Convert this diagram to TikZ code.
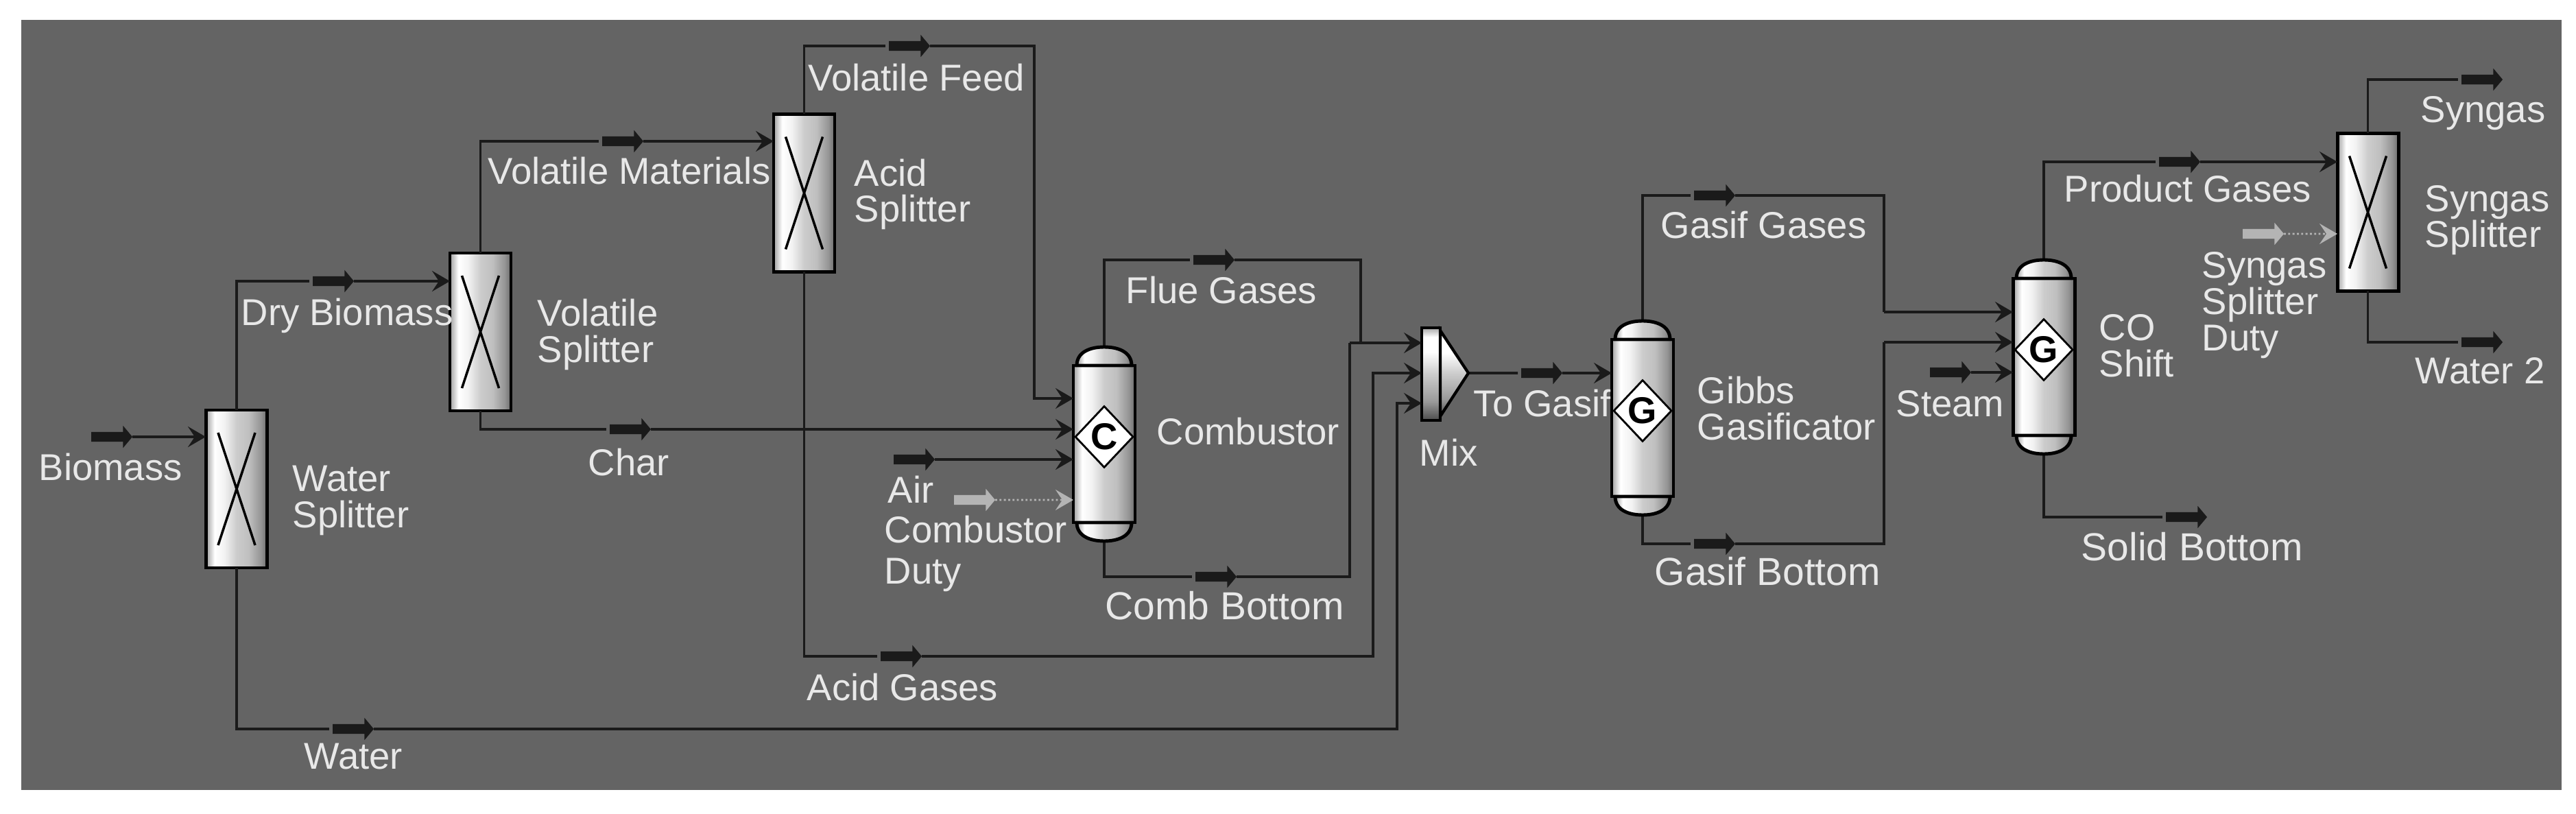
\documentclass[tikz,border=0pt]{standalone}
\usepackage{fontspec}
\setmainfont{Liberation Sans}
\usetikzlibrary{arrows.meta,shapes.arrows,shapes.geometric}
\definecolor{flowbg}{HTML}{646464}
\definecolor{flowline}{HTML}{1A1A1A}
\definecolor{flowtext}{HTML}{E8E8E8}
\definecolor{dutyline}{HTML}{B4B4B4}
\pgfdeclarehorizontalshading{vesselshade}{100bp}{gray(0bp)=(.62); gray(25bp)=(.62); gray(32bp)=(1); gray(40bp)=(.95); gray(50bp)=(.8); gray(60bp)=(.75); gray(70bp)=(.58); gray(75bp)=(.42); gray(100bp)=(.42)}
\pgfdeclareverticalshading{mixshade}{100bp}{gray(0bp)=(.3); gray(25bp)=(.3); gray(35bp)=(.6); gray(50bp)=(.8); gray(62bp)=(1); gray(70bp)=(1); gray(75bp)=(.65); gray(100bp)=(.65)}

\begin{document}
\begin{tikzpicture}[y=-1cm]
\tikzstyle{splitter}=[draw=black, line width=1.4pt, rectangle, shade, shading=vesselshade, minimum width=.89cm, minimum height=2.3cm, inner sep=0pt, outer sep=0pt,
  path picture={\draw[black, line width=1pt] ([xshift=-.27cm,yshift=.82cm]path picture bounding box.center) -- ([xshift=.27cm,yshift=-.82cm]path picture bounding box.center) ([xshift=.27cm,yshift=.82cm]path picture bounding box.center) -- ([xshift=-.27cm,yshift=-.82cm]path picture bounding box.center);}]
\tikzstyle{vessel}=[draw=black, line width=1.4pt, rectangle, shade, shading=vesselshade, minimum width=.9cm, minimum height=2.29cm, inner sep=0pt, outer sep=0pt]
\tikzstyle{dome}=[draw=black, line width=1.4pt, shade, shading=vesselshade]
\tikzstyle{badge}=[draw=black, fill=white, diamond, line width=.8pt, shape aspect=.94, minimum width=.85cm, minimum height=.9cm, inner sep=0pt, text=black, font=\fontsize{15.5}{15}\selectfont\bfseries]
\tikzstyle{mixbar}=[draw=black, line width=1.4pt, rectangle, shade, shading=mixshade, minimum width=.27cm, minimum height=1.35cm, inner sep=0pt, outer sep=0pt]
\tikzstyle{tag}=[single arrow, fill=flowline, draw=none, minimum height=.6cm, text height=.13cm, text depth=0pt, single arrow head extend=.09cm, single arrow tip angle=100, inner sep=0pt, outer sep=0pt]
\tikzstyle{dutytag}=[tag, fill=dutyline]
\tikzstyle{lbl}=[text=flowtext, anchor=base west, align=left, inner sep=0pt, font=\fontsize{15.5}{15}\selectfont]
\tikzstyle{lblw}=[lbl, font=\fontsize{16.2}{15}\selectfont]
\tikzstyle{stream}=[draw=flowline, line width=1.05pt]
\tikzstyle{tofeed}=[stream, shorten >=.05cm]
\tikzstyle{feed}=[stream, -{Stealth[length=.26cm,width=.3cm,inset=.1cm]}]
\tikzstyle{duty}=[draw=dutyline, line width=.8pt, densely dotted, -{Stealth[length=.26cm,width=.3cm,inset=.1cm,fill=dutyline,color=dutyline]}]

\useasboundingbox (0,0) rectangle (37.56,11.87);
\fill[flowbg] (.31,.29) rectangle (37.35,11.52);

% units
\draw (3.45,7.13) node[splitter] (wsplit) {};
\draw (7.005,4.84) node[splitter] (vsplit) {};
\draw (11.725,2.815) node[splitter] (asplit) {};
\draw (34.525,3.095) node[splitter] (ssplit) {};
\draw (16.10,6.475) node[vessel] (comb) {};
\draw (23.95,6.095) node[vessel] (gibbs) {};
\draw (29.80,5.205) node[vessel] (shift) {};
\draw (20.865,5.455) node[mixbar] (mix) {};

% inlets and joins
\coordinate (combvf) at (15.65,5.81);
\coordinate (combchar) at (15.65,6.26);
\coordinate (combair) at (15.65,6.70);
\coordinate (combduty) at (15.65,7.29);
\coordinate (mixa) at (20.73,5.00);
\coordinate (mixb) at (20.73,5.44);
\coordinate (mixc) at (20.73,5.88);
\coordinate (mixout) at (21.41,5.44);
\coordinate (fluejoin) at (19.84,5.00);
\coordinate (cbjoin) at (19.68,5.00);
\coordinate (shifta) at (29.35,4.55);
\coordinate (shiftb) at (29.35,4.99);
\coordinate (shiftc) at (29.35,5.43);
\coordinate (gasifjoin) at (27.47,4.55);
\coordinate (gbjoin) at (27.47,4.99);
\coordinate (gibbsin) at (23.50,5.44);
\coordinate (productin) at (34.08,2.36);
\coordinate (ssduty) at (34.08,3.41);
\coordinate (wsin) at (3.00,6.37);
\coordinate (vsin) at (6.56,4.10);
\coordinate (asin) at (11.28,2.06);

% stream tags
\draw (1.60,6.37) node[tag] (biotag) {};
\draw (4.83,4.10) node[tag] (drytag) {};
\draw (5.12,10.63) node[tag] (watertag) {};
\draw (9.05,2.06) node[tag] (voltag) {};
\draw (13.23,.67) node[tag] (vftag) {};
\draw (9.16,6.26) node[tag] (chartag) {};
\draw (13.30,6.70) node[tag] (airtag) {};
\draw (14.18,7.29) node[dutytag] (cdtag) {};
\draw (17.67,3.79) node[tag] (fluetag) {};
\draw (17.70,8.41) node[tag] (cbtag) {};
\draw (13.11,9.57) node[tag] (agtag) {};
\draw (22.45,5.44) node[tag] (togtag) {};
\draw (24.97,2.85) node[tag] (ggtag) {};
\draw (24.97,7.93) node[tag] (gbtag) {};
\draw (28.41,5.43) node[tag] (steamtag) {};
\draw (31.75,2.36) node[tag] (pgtag) {};
\draw (32.97,3.41) node[dutytag] (sdtag) {};
\draw (36.16,1.16) node[tag] (syntag) {};
\draw (36.16,4.99) node[tag] (w2tag) {};
\draw (31.85,7.54) node[tag] (sbtag) {};

% streams
\draw[feed] (biotag.east) -- (wsin);
\draw[tofeed] (wsplit.north) |- (drytag.west);
\draw[feed] (drytag.east) -- (vsin);
\draw[tofeed] (wsplit.south) |- (watertag.west);
\draw[feed] (watertag.east) -| (20.37,5.88) -- (mixc);
\draw[tofeed] (vsplit.north) |- (voltag.west);
\draw[feed] (voltag.east) -- (asin);
\draw[tofeed] (vsplit.south) |- (chartag.west);
\draw[feed] (chartag.east) -- (combchar);
\draw[tofeed] (asplit.north) |- (vftag.west);
\draw[feed] (vftag.east) -| (15.08,5.81) -- (combvf);
\draw[tofeed] (asplit.south) |- (agtag.west);
\draw[feed] (agtag.east) -| (20.02,5.44) -- (mixb);
\draw[feed] (airtag.east) -- (combair);
\draw[duty] (cdtag.east) -- (combduty);
\draw[tofeed] (comb.north) |- (fluetag.west);
\draw[stream] (fluetag.east) -| (fluejoin);
\draw[tofeed] (comb.south) |- (cbtag.west);
\draw[stream] (cbtag.east) -| (cbjoin);
\draw[feed] (cbjoin) -- (mixa);
\draw[tofeed] (mixout) -- (togtag.west);
\draw[feed] (togtag.east) -- (gibbsin);
\draw[tofeed] (gibbs.north) |- (ggtag.west);
\draw[stream] (ggtag.east) -| (gasifjoin);
\draw[feed] (gasifjoin) -- (shifta);
\draw[tofeed] (gibbs.south) |- (gbtag.west);
\draw[stream] (gbtag.east) -| (gbjoin);
\draw[feed] (gbjoin) -- (shiftb);
\draw[feed] (steamtag.east) -- (shiftc);
\draw[tofeed] (shift.north) |- (pgtag.west);
\draw[feed] (pgtag.east) -- (productin);
\draw[duty] (sdtag.east) -- (ssduty);
\draw[tofeed] (shift.south) |- (sbtag.west);
\draw[tofeed] (ssplit.north) |- (syntag.west);
\draw[tofeed] (ssplit.south) |- (w2tag.west);

% domes and mixer wedge
\draw[dome] ([xshift=.05cm]comb.north west) .. controls +(0,-.2) and +(-.2,0) .. ([yshift=.27cm]comb.north) .. controls +(.2,0) and +(0,-.2) .. ([xshift=-.05cm]comb.north east) -- cycle;
\draw[dome] ([xshift=.05cm]comb.south west) .. controls +(0,.2) and +(-.2,0) .. ([yshift=-.27cm]comb.south) .. controls +(.2,0) and +(0,.2) .. ([xshift=-.05cm]comb.south east) -- cycle;
\draw[dome] ([xshift=.05cm]gibbs.north west) .. controls +(0,-.2) and +(-.2,0) .. ([yshift=.27cm]gibbs.north) .. controls +(.2,0) and +(0,-.2) .. ([xshift=-.05cm]gibbs.north east) -- cycle;
\draw[dome] ([xshift=.05cm]gibbs.south west) .. controls +(0,.2) and +(-.2,0) .. ([yshift=-.27cm]gibbs.south) .. controls +(.2,0) and +(0,.2) .. ([xshift=-.05cm]gibbs.south east) -- cycle;
\draw[dome] ([xshift=.05cm]shift.north west) .. controls +(0,-.2) and +(-.2,0) .. ([yshift=.27cm]shift.north) .. controls +(.2,0) and +(0,-.2) .. ([xshift=-.05cm]shift.north east) -- cycle;
\draw[dome] ([xshift=.05cm]shift.south west) .. controls +(0,.2) and +(-.2,0) .. ([yshift=-.27cm]shift.south) .. controls +(.2,0) and +(0,.2) .. ([xshift=-.05cm]shift.south east) -- cycle;
\draw[draw=black, line width=1.2pt, shade, shading=mixshade] ([yshift=-.04cm]mix.north east) -- (mixout) -- ([yshift=.06cm]mix.south east) -- cycle;

% reactor badges
\draw (16.10,6.37) node[badge] (combbadge) {C};
\draw (23.95,5.99) node[badge] (gibbsbadge) {G};
\draw (29.80,5.10) node[badge] (shiftbadge) {G};

% labels
\draw (.56,7.00) node[lbl] (lbiomass) {Biomass};
\draw (4.26,7.69) node[lbl] (lwsplit) {Water\\Splitter};
\draw (3.51,4.74) node[lbl] (ldry) {Dry Biomass};
\draw (7.83,5.28) node[lbl] (lvsplit) {Volatile\\Splitter};
\draw (7.11,2.69) node[lbl] (lvol) {Volatile Materials};
\draw (12.45,3.24) node[lbl] (lasplit) {Acid\\Splitter};
\draw (11.78,1.33) node[lbl] (lvf) {Volatile Feed};
\draw (8.57,6.93) node[lbl] (lchar) {Char};
\draw (16.41,4.42) node[lbl] (lflue) {Flue Gases};
\draw (16.86,6.48) node[lbl] (lcomb) {Combustor};
\draw (12.94,7.33) node[lbl] (lair) {Air};
\draw (12.89,8.51) node[lbl] (lcd) {Combustor\\[.07cm]Duty};
\draw (16.11,9.03) node[lblw] (lcb) {Comb Bottom};
\draw (11.76,10.21) node[lbl] (lag) {Acid Gases};
\draw (4.43,11.21) node[lbl] (lwater) {Water};
\draw (20.69,6.79) node[lbl] (lmix) {Mix};
\draw (21.48,6.07) node[lbl] (ltog) {To Gasif};
\draw (24.74,6.41) node[lbl] (lgibbs) {Gibbs\\Gasificator};
\draw (24.21,3.48) node[lbl] (lgg) {Gasif Gases};
\draw (24.12,8.53) node[lblw] (lgb) {Gasif Bottom};
\draw (27.64,6.07) node[lbl] (lsteam) {Steam};
\draw (30.60,5.49) node[lbl] (lshift) {CO\\Shift};
\draw (30.09,2.95) node[lbl] (lpg) {Product Gases};
\draw (32.10,5.11) node[lbl] (lsd) {Syngas\\Splitter\\Duty};
\draw (35.35,3.61) node[lbl] (lssplit) {Syngas\\Splitter};
\draw (35.29,1.79) node[lbl] (lsyn) {Syngas};
\draw (35.21,5.59) node[lbl] (lw2) {Water 2};
\draw (30.34,8.17) node[lblw] (lsb) {Solid Bottom};
\end{tikzpicture}
\end{document}
